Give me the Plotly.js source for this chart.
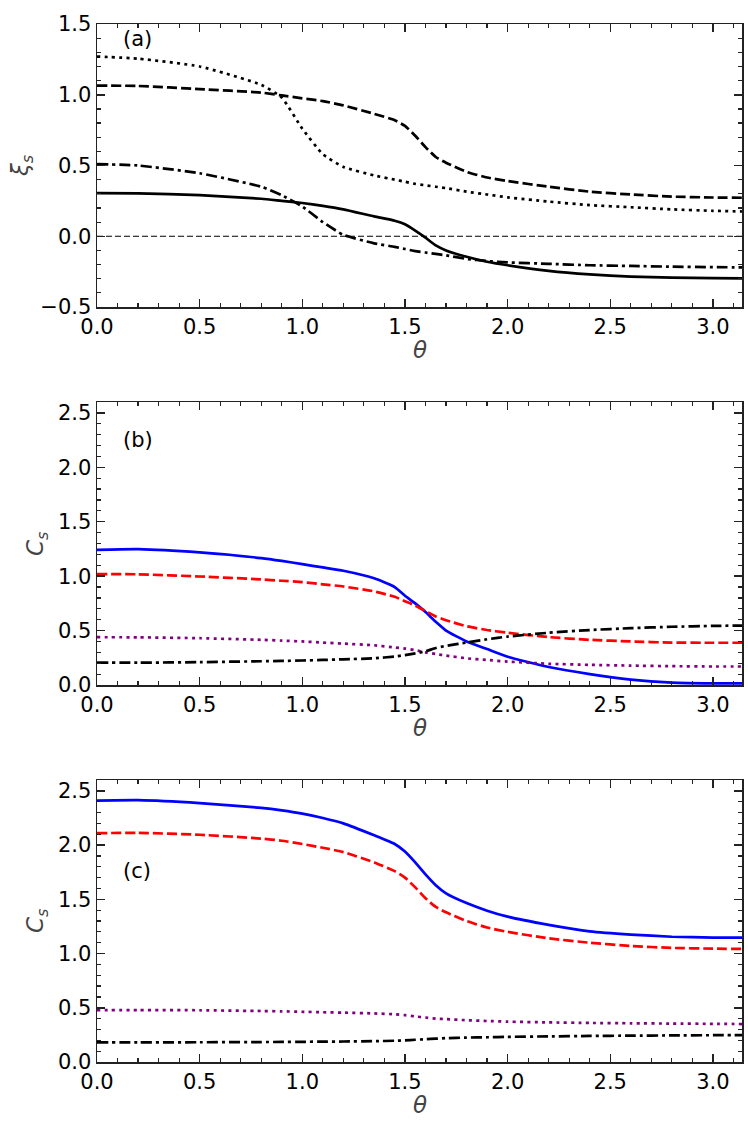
<!DOCTYPE html>
<html>
<head>
<meta charset="utf-8">
<script src="https://cdn.plot.ly/plotly-3.0.1.min.js"></script>
<style>
  body { margin: 0; background: #fff; }
  #chart { width: 748px; height: 1133px; }
</style>
</head>
<body>
<div id="chart"></div>
<script>
// theta grid shared by all curves
let THETA = [0, 0.2, 0.5, 0.8, 0.9, 1.0, 1.1, 1.2, 1.35, 1.45, 1.5, 1.55, 1.6, 1.65, 1.7, 1.8, 1.9, 2.0, 2.2, 2.4, 2.6, 2.8, 3.0, 3.1416];

// panel (a): xi_s
let xiSolid   = [0.305, 0.303, 0.29, 0.265, 0.25, 0.235, 0.215, 0.19, 0.14, 0.11, 0.085, 0.04, -0.01, -0.065, -0.10, -0.145, -0.18, -0.205, -0.245, -0.27, -0.285, -0.292, -0.296, -0.297];
let xiDashed  = [1.065, 1.062, 1.04, 1.015, 0.995, 0.975, 0.955, 0.925, 0.865, 0.82, 0.78, 0.71, 0.63, 0.56, 0.52, 0.455, 0.415, 0.39, 0.35, 0.315, 0.295, 0.28, 0.274, 0.272];
let xiDotted  = [1.27, 1.255, 1.20, 1.07, 0.98, 0.76, 0.58, 0.49, 0.43, 0.40, 0.385, 0.37, 0.36, 0.35, 0.34, 0.315, 0.295, 0.275, 0.245, 0.22, 0.205, 0.19, 0.18, 0.175];
let xiDashDot = [0.51, 0.50, 0.445, 0.35, 0.29, 0.21, 0.10, 0.01, -0.05, -0.075, -0.09, -0.105, -0.115, -0.125, -0.135, -0.16, -0.175, -0.185, -0.195, -0.205, -0.21, -0.215, -0.218, -0.22];
let zeroLine  = [0, 0];

// panel (b): C_s
let bBlue   = [1.242, 1.248, 1.218, 1.166, 1.14, 1.11, 1.08, 1.05, 0.98, 0.90, 0.82, 0.75, 0.67, 0.58, 0.50, 0.40, 0.33, 0.26, 0.165, 0.10, 0.05, 0.022, 0.015, 0.015];
let bRed    = [1.018, 1.017, 0.997, 0.97, 0.958, 0.945, 0.925, 0.905, 0.86, 0.81, 0.77, 0.73, 0.68, 0.63, 0.595, 0.54, 0.505, 0.48, 0.44, 0.415, 0.40, 0.39, 0.388, 0.388];
let bPurple = [0.439, 0.438, 0.43, 0.415, 0.408, 0.40, 0.39, 0.38, 0.365, 0.345, 0.335, 0.32, 0.30, 0.285, 0.27, 0.245, 0.23, 0.215, 0.195, 0.185, 0.178, 0.173, 0.17, 0.17];
let bBlack  = [0.205, 0.205, 0.21, 0.218, 0.221, 0.225, 0.23, 0.236, 0.245, 0.262, 0.275, 0.29, 0.31, 0.34, 0.36, 0.39, 0.42, 0.445, 0.48, 0.505, 0.522, 0.535, 0.543, 0.546];

// panel (c): C_s
let cBlue   = [2.41, 2.414, 2.387, 2.343, 2.32, 2.29, 2.25, 2.20, 2.09, 2.01, 1.94, 1.84, 1.73, 1.63, 1.555, 1.465, 1.395, 1.34, 1.265, 1.205, 1.175, 1.155, 1.147, 1.147];
let cRed    = [2.11, 2.113, 2.095, 2.06, 2.04, 2.01, 1.975, 1.935, 1.84, 1.76, 1.70, 1.61, 1.51, 1.43, 1.38, 1.30, 1.24, 1.20, 1.14, 1.10, 1.07, 1.052, 1.045, 1.043];
let cPurple = [0.479, 0.479, 0.477, 0.47, 0.467, 0.463, 0.459, 0.455, 0.448, 0.44, 0.432, 0.42, 0.41, 0.40, 0.395, 0.385, 0.378, 0.372, 0.365, 0.36, 0.357, 0.354, 0.352, 0.35];
let cBlack  = [0.181, 0.181, 0.182, 0.184, 0.185, 0.186, 0.188, 0.189, 0.192, 0.196, 0.2, 0.205, 0.21, 0.215, 0.22, 0.225, 0.228, 0.232, 0.236, 0.24, 0.243, 0.245, 0.247, 0.248];

let X_TICKS = [0, 0.5, 1.0, 1.5, 2.0, 2.5, 3.0];
let FONT = 'DejaVu Sans, sans-serif';

// page geometry (pixels) -> paper coords
let PLOT_L = 97, PLOT_R = 742, PLOT_T = 24, PLOT_B = 1062;
function px2x(px) { return (px - PLOT_L) / (PLOT_R - PLOT_L); }
function px2y(py) { return (PLOT_B - py) / (PLOT_B - PLOT_T); }

let DASH = '10px,4px';
let DOT = '3px,4.3px';
let DASHDOT = '11px,4px,3px,4px';

function curve(y, color, dash, xa, ya) {
    return {
        x: THETA, y: y, xaxis: xa, yaxis: ya,
        mode: 'lines', type: 'scatter',
        line: { color: color, width: 2.7, dash: dash, shape: 'spline', smoothing: 0.5 },
        hoverinfo: 'skip', showlegend: false
    };
}

let traces = [
    { x: [0, 3.1416], y: zeroLine, mode: 'lines', line: { color: '#000', width: 1, dash: '6px,3px' }, showlegend: false },
    curve(xiSolid, '#000', 'solid', 'x', 'y'),
    curve(xiDashed, '#000', DASH, 'x', 'y'),
    curve(xiDotted, '#000', DOT, 'x', 'y'),
    curve(xiDashDot, '#000', DASHDOT, 'x', 'y'),

    curve(bBlue, '#0000ff', 'solid', 'x2', 'y2'),
    curve(bRed, '#ff0000', DASH, 'x2', 'y2'),
    curve(bPurple, '#800080', DOT, 'x2', 'y2'),
    curve(bBlack, '#000', DASHDOT, 'x2', 'y2'),

    curve(cBlue, '#0000ff', 'solid', 'x3', 'y3'),
    curve(cRed, '#ff0000', DASH, 'x3', 'y3'),
    curve(cPurple, '#800080', DOT, 'x3', 'y3'),
    curve(cBlack, '#000', DASHDOT, 'x3', 'y3'),
];

function xAxis(anchor) {
    return {
        anchor: anchor, range: [0, 3.1416], tickvals: X_TICKS, tickformat: '.1f',
        showline: true, linecolor: '#222', linewidth: 1.5, mirror: 'allticks',
        ticks: 'inside', ticklen: 8, tickwidth: 1.5, tickcolor: '#222',
        minor: { ticks: 'inside', ticklen: 4, tickwidth: 1.2, dtick: 0.1, tickcolor: '#222', showgrid: false },
        showgrid: false, zeroline: false,
        tickfont: { family: FONT, size: 21, color: '#000' }
    };
}

function yAxis(anchor, range, domain) {
    return {
        anchor: anchor, range: range, domain: domain, dtick: 0.5, tick0: 0, tickformat: '.1f',
        showline: true, linecolor: '#222', linewidth: 1.5, mirror: 'allticks',
        ticks: 'inside', ticklen: 8, tickwidth: 1.5, tickcolor: '#222',
        minor: { ticks: 'inside', ticklen: 4, tickwidth: 1.2, dtick: 0.1, tickcolor: '#222', showgrid: false },
        showgrid: false, zeroline: false,
        tickfont: { family: FONT, size: 21, color: '#000' }
    };
}

function note(text, x, y, opts) {
    return Object.assign({
        text: text, xref: 'paper', yref: 'paper', x: x, y: y,
        xanchor: 'center', yanchor: 'middle',
        showarrow: false, font: { family: FONT, size: 21, color: '#000' }
    }, opts || {});
}

let annotations = [
    note('(a)', px2x(121), px2y(39), { xanchor: 'left' }),
    note('(b)', px2x(121), px2y(440), { xanchor: 'left' }),
    note('(c)', px2x(121), px2y(871), { xanchor: 'left' }),
    note('<i>θ</i>', px2x(420), px2y(350), { font: { family: FONT, size: 23 } }),
    note('<i>θ</i>', px2x(420), px2y(728), { font: { family: FONT, size: 23 } }),
    note('<i>θ</i>', px2x(420), px2y(1105), { font: { family: FONT, size: 23 } }),
    note('<i>ξ<sub>s</sub></i>', px2x(22), px2y(166), { textangle: -90, font: { family: FONT, size: 23 } }),
    note('<i>C<sub>s</sub></i>', px2x(37), px2y(544), { textangle: -90, font: { family: FONT, size: 23 } }),
    note('<i>C<sub>s</sub></i>', px2x(37), px2y(921), { textangle: -90, font: { family: FONT, size: 23 } }),
];

let layout = {
    width: 748, height: 1133,
    margin: { l: PLOT_L, r: 748 - PLOT_R, t: PLOT_T, b: 1133 - PLOT_B, pad: 0 },
    paper_bgcolor: '#fff', plot_bgcolor: '#fff',
    xaxis: xAxis('y'),
    xaxis2: xAxis('y2'),
    xaxis3: xAxis('y3'),
    yaxis: yAxis('x', [-0.5, 1.5], [px2y(307), 1]),
    yaxis2: yAxis('x2', [0, 2.6], [px2y(685), px2y(402)]),
    yaxis3: yAxis('x3', [0, 2.6], [0, px2y(780)]),
    annotations: annotations,
    showlegend: false
};

Plotly.newPlot('chart', traces, layout, { staticPlot: true });
</script>
</body>
</html>
